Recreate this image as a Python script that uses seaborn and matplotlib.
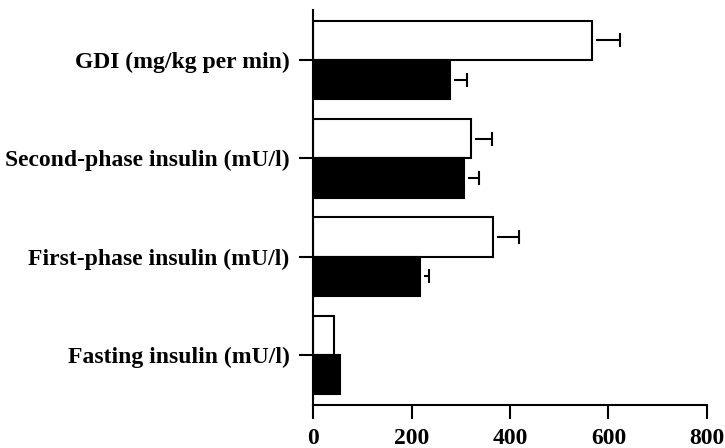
import matplotlib
matplotlib.use("Agg")
import matplotlib.pyplot as plt
import numpy as np
import pandas as pd
import seaborn as sns

# Measurements, top to bottom
measures = [
    "GDI (mg/kg per min)",
    "Second-phase insulin (mU/l)",
    "First-phase insulin (mU/l)",
    "Fasting insulin (mU/l)",
]
groups = ["Group 1", "Group 2"]

# Means and upper error (SE) for each group
open_means = [567, 321, 365, 43]
open_errs = [57, 43, 54, 0]
filled_means = [279, 307, 218, 54]
filled_errs = [33, 29, 18, 0]

x_ticks = [0, 200, 400, 600, 800]

df = pd.DataFrame({
    "measure": measures * 2,
    "group": [groups[0]] * len(measures) + [groups[1]] * len(measures),
    "value": open_means + filled_means,
    "err": open_errs + filled_errs,
})

sns.set_style("ticks")
plt.rcParams["font.family"] = ["Liberation Serif", "DejaVu Serif"]
plt.rcParams["font.weight"] = "bold"

fig = plt.figure(figsize=(7.25, 4.48), dpi=100)
ax = fig.add_axes([0.432, 0.096, 0.543, 0.882])

sns.barplot(
    data=df, x="value", y="measure", hue="group", orient="h",
    order=measures, hue_order=groups,
    palette=["white", "black"], edgecolor="black", linewidth=1.5,
    width=0.8, errorbar=None, legend=False, ax=ax,
)

# One-sided error bars starting just past each bar's end, cap on the outer end only
gap = 8
offsets = {groups[0]: -0.2, groups[1]: 0.2}
for _, row in df.iterrows():
    if row["err"] <= 0:
        continue
    y = measures.index(row["measure"]) + offsets[row["group"]]
    _, caps, _ = ax.errorbar(
        row["value"] + gap, y, xerr=[[0], [row["err"] - gap]],
        fmt="none", ecolor="black", elinewidth=1.5, capsize=4.7, capthick=1.5,
    )
    caps[0].set_visible(False)

ax.set_xlim(0, 800)
ax.set_ylim(3.51, -0.51)
ax.set_xticks(x_ticks)
ax.set_xlabel("")
ax.set_ylabel("")
sns.despine(ax=ax)
for s in ["left", "bottom"]:
    ax.spines[s].set_linewidth(1.5)
    ax.spines[s].set_color("black")
ax.tick_params(axis="both", length=10, width=1.5, color="black",
               labelsize=17, labelcolor="black")
ax.tick_params(axis="y", pad=7)
ax.tick_params(axis="x", pad=6.5)
for lab in ax.get_xticklabels() + ax.get_yticklabels():
    lab.set_fontweight("bold")

fig.savefig("out.png", dpi=100)
